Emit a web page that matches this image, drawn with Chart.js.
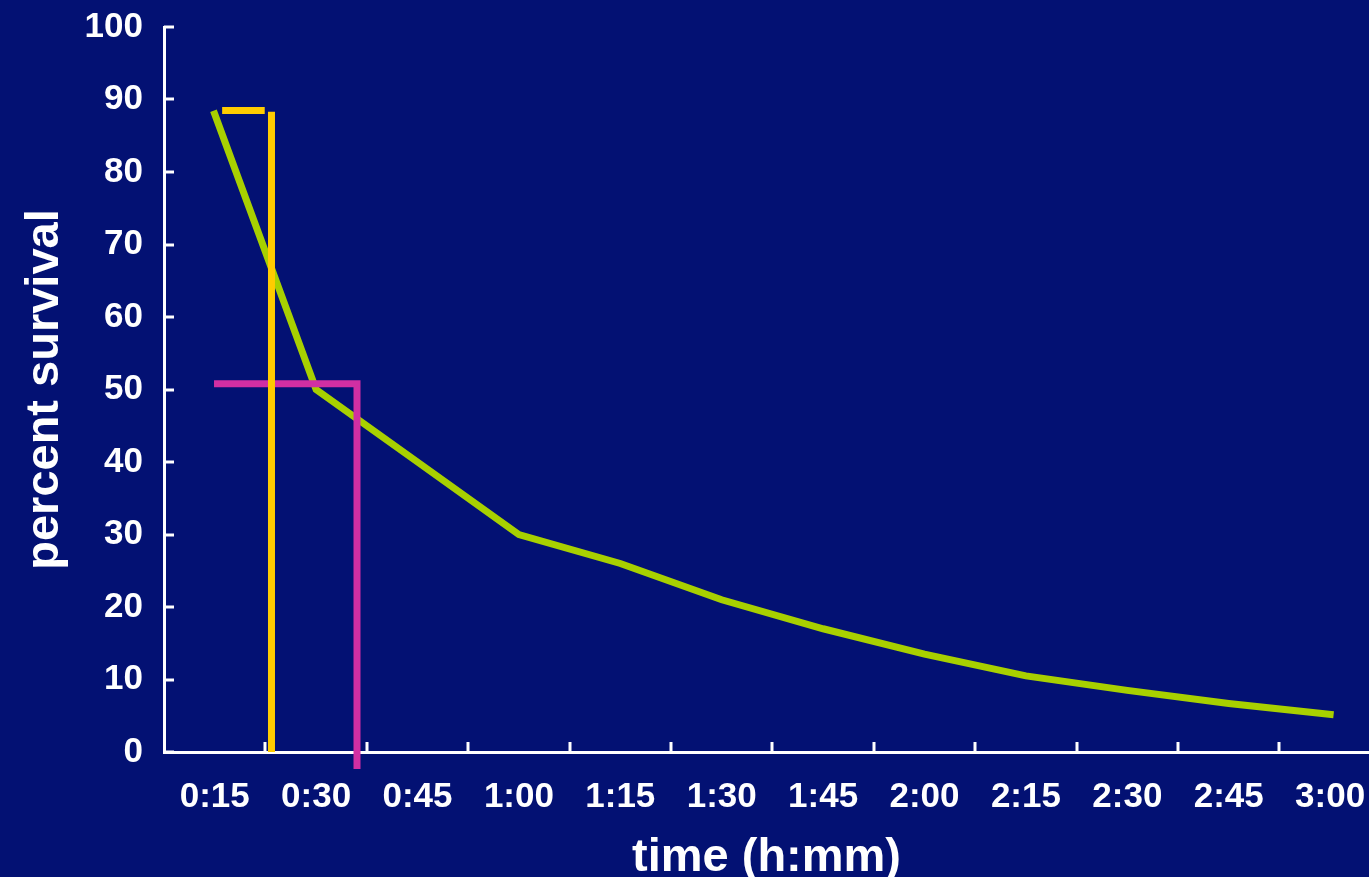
<!DOCTYPE html>
<html>
<head>
<meta charset="utf-8">
<script src="https://cdn.jsdelivr.net/npm/chart.js@4"></script>
<style>
  html, body { margin:0; padding:0; background:#031173; overflow:hidden; }
  #wrap { width:1369px; height:877px; }
</style>
</head>
<body>
<div id="wrap"><canvas id="chart" width="1369" height="877"></canvas></div>
<script>
// time axis (minutes) and its labels
const minutes = [15, 30, 45, 60, 75, 90, 105, 120, 135, 150, 165, 180];
const timeLabels = ["0:15","0:30","0:45","1:00","1:15","1:30","1:45","2:00","2:15","2:30","2:45","3:00"];
const tickMarks = [22.5, 37.5, 52.5, 67.5, 82.5, 97.5, 112.5, 127.5, 142.5, 157.5, 172.5];
const yTicks = [0, 10, 20, 30, 40, 50, 60, 70, 80, 90, 100];

// percent survival curve
const survival = [88, 50, 40, 30, 26, 21, 17, 13.5, 10.5, 8.5, 6.7, 5.2];

// marker lines (minutes, percent)
const yellowCapX = [16.1, 22.4];
const yellowCapY = [88.5, 88.5];
const yellowDropX = [23.4, 23.4];
const yellowDropY = [88.3, 0];
const magentaX = [14.9, 36.05, 36.05];
const magentaY = [50.8, 50.8, -2.35];

const pts = (xs, ys) => xs.map((v, i) => ({x: v, y: ys[i]}));

const font = {family: "'Liberation Sans', Arial, sans-serif", weight: "bold"};

// tick marks pointing into the plot
const innerTicks = {
    id: "innerTicks",
    beforeDatasetsDraw(chart){
        const {ctx, scales: {x, y}} = chart;
        ctx.save();
        ctx.strokeStyle = "#ffffff";
        ctx.lineWidth = 3;
        ctx.beginPath();
        yTicks.forEach(v=>{
            const py = Math.round(y.getPixelForValue(v));
            ctx.moveTo(x.left, py);
            ctx.lineTo(x.left + 10, py);
        });
        tickMarks.forEach(m=>{
            const px = Math.round(x.getPixelForValue(m));
            ctx.moveTo(px, y.bottom);
            ctx.lineTo(px, y.bottom - 10);
        });
        ctx.stroke();
        ctx.restore();
    }
};

new Chart(document.getElementById("chart").getContext("2d"), {
    type: "line",
    data: {
        datasets: [
            {
                data: pts(minutes, survival),
                borderColor: "#a8d000",
                borderWidth: 7,
                borderCapStyle: "square",
                pointRadius: 0,
                tension: 0,
                order: 1
            },
            {
                data: pts(yellowCapX, yellowCapY),
                borderColor: "#ffcc00",
                borderWidth: 7,
                pointRadius: 0,
                order: 0
            },
            {
                data: pts(yellowDropX, yellowDropY),
                borderColor: "#ffcc00",
                borderWidth: 7,
                pointRadius: 0,
                order: 0
            },
            {
                data: pts(magentaX, magentaY),
                borderColor: "#d12fa3",
                borderWidth: 7,
                pointRadius: 0,
                clip: false,
                order: 0
            }
        ]
    },
    options: {
        responsive: false,
        animation: false,
        events: [],
        layout: {padding: {top: 27, right: 0, bottom: 0, left: 0}},
        plugins: {legend: {display: false}, tooltip: {enabled: false}},
        scales: {
            x: {
                type: "linear",
                min: 7.5,
                max: 185.75,
                afterBuildTicks: s => { s.ticks = minutes.map(v => ({value: v})); },
                afterFit: s => { s.height = 125; s.paddingLeft = 0; s.paddingRight = 0; },
                grid: {drawOnChartArea: false, drawTicks: false},
                border: {display: true, color: "#ffffff", width: 3},
                ticks: {
                    color: "#ffffff",
                    font: {...font, size: 35},
                    padding: 24,
                    maxRotation: 0,
                    autoSkip: false,
                    callback: v => timeLabels[minutes.indexOf(v)] || ""
                },
                title: {
                    display: true,
                    text: "time (h:mm)",
                    color: "#ffffff",
                    font: {...font, size: 47, lineHeight: 0.8},
                    padding: {top: 0, bottom: 0}
                }
            },
            y: {
                min: 0,
                max: 100,
                afterBuildTicks: s => { s.ticks = yTicks.map(v => ({value: v})); },
                afterFit: s => { s.width = 164; s.paddingTop = 0; s.paddingBottom = 0; },
                grid: {drawOnChartArea: false, drawTicks: false},
                border: {display: true, color: "#ffffff", width: 3},
                ticks: {
                    color: "#ffffff",
                    font: {...font, size: 35},
                    padding: 21
                },
                title: {
                    display: true,
                    text: "percent survival",
                    color: "#ffffff",
                    font: {...font, size: 47, lineHeight: 1},
                    padding: {top: 22, bottom: 0}
                }
            }
        }
    },
    plugins: [innerTicks]
});
</script>
</body>
</html>
